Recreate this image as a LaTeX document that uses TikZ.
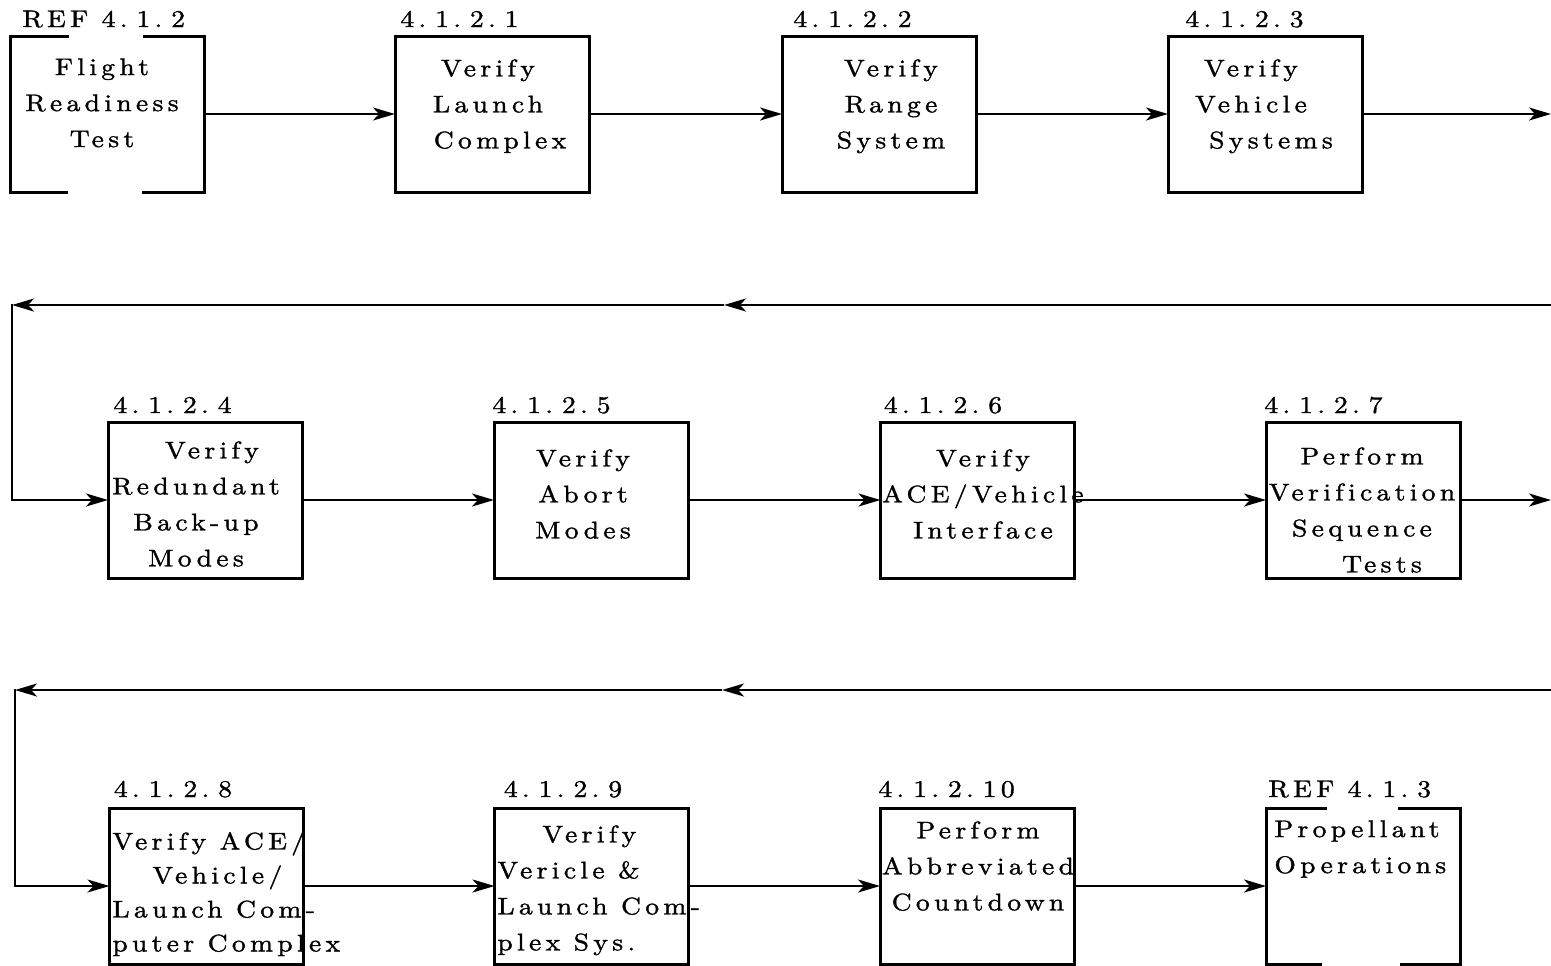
\documentclass[tikz,border=0pt]{standalone}
\usepackage{fontspec}
\setmainfont{lmroman10-regular.otf}[LetterSpace=18, FakeStretch=1.15, FakeBold=1.3, Ligatures=NoCommon]
\usetikzlibrary{arrows.meta,calc}
% space after each dot of a block number
\newcommand\numgap{\hspace{4.5pt}}

\begin{document}
\begin{tikzpicture}[x=0.5pt,y=-0.5pt,
  font=\fontsize{12pt}{18pt}\selectfont,
  box/.style={draw, line width=1.5pt, minimum width=97pt, minimum height=78pt,
              inner sep=0pt, outer sep=0pt},
  refbox/.style={box, draw=none},
  tag/.style={anchor=base west, inner sep=0pt},
  body/.style={anchor=north, inner sep=0pt, align=center},
  lbody/.style={anchor=north west, inner sep=0pt, align=left},
  flow/.style={line width=1.3pt, -{Stealth[length=11pt,width=6.5pt,inset=3pt]}},
  edge/.style={line width=1.5pt}
]
\useasboundingbox (0,0) rectangle (1551,965);
\fill[white] (0,0) rectangle (1551,965);

% ---- first row ----
\node[refbox] (b0) at (107,114) {};
\node[box]    (b1) at (492,114) {};
\node[box]    (b2) at (879,114) {};
\node[box]    (b3) at (1265,114) {};

% ---- second row ----
\node[box] (b4) at (205,500) {};
\node[box] (b5) at (591,500) {};
\node[box] (b6) at (977.5,500) {};
\node[box] (b7) at (1363,500) {};

% ---- third row ----
\node[box]    (b8)  at (206.5,886) {};
\node[box]    (b9)  at (591.5,886) {};
\node[box]    (b10) at (977,886) {};
\node[refbox] (b11) at (1363,886) {};

% open-sided reference blocks
\draw[edge] ($(b0.north west)+(59,0)$) -- (b0.north west) -- (b0.south west) -- ++(58,0);
\draw[edge] ($(b0.north east)+(-61,0)$) -- (b0.north east) -- (b0.south east) -- ++(-62,0);
\draw[edge] ($(b11.north west)+(61,0)$) -- (b11.north west) -- (b11.south west) -- ++(56,0);
\draw[edge] ($(b11.north east)+(-62,0)$) -- (b11.north east) -- (b11.south east) -- ++(-60,0);

% block numbers
\node[tag] (l0)  at ($(b0.north west)+(12,-9)$)  {REF 4.\numgap 1.\numgap 2};
\node[tag] (l1)  at ($(b1.north west)+(5,-9)$)   {4.\numgap 1.\numgap 2.\numgap 1};
\node[tag] (l2)  at ($(b2.north west)+(11,-9)$)  {4.\numgap 1.\numgap 2.\numgap 2};
\node[tag] (l3)  at ($(b3.north west)+(17,-9)$)  {4.\numgap 1.\numgap 2.\numgap 3};
\node[tag] (l4)  at ($(b4.north west)+(5,-9)$)   {4.\numgap 1.\numgap 2.\numgap 4};
\node[tag] (l5)  at ($(b5.north west)+(-2,-9)$)  {4.\numgap 1.\numgap 2.\numgap 5};
\node[tag] (l6)  at ($(b6.north west)+(3,-9)$)   {4.\numgap 1.\numgap 2.\numgap 6};
\node[tag] (l7)  at ($(b7.north west)+(-2,-9)$)  {4.\numgap 1.\numgap 2.\numgap 7};
\node[tag] (l8)  at ($(b8.north west)+(4,-11)$)  {4.\numgap 1.\numgap 2.\numgap 8};
\node[tag] (l9)  at ($(b9.north west)+(9,-11)$)  {4.\numgap 1.\numgap 2.\numgap 9};
\node[tag] (l10) at ($(b10.north west)+(-2,-11)$) {4.\numgap 1.\numgap 2.\numgap 10};
\node[tag] (l11) at ($(b11.north west)+(2,-11)$) {REF 4.\numgap 1.\numgap 3};

% block texts
\node[body] (t0) at (102,58)   {Flight\\Readiness\\Test};
\node[body] (t1) at (488,59)   {Verify\\Launch\\\hspace*{12pt}Complex};
\node[body] (t2) at (891,59)   {Verify\\Range\\System};
\node[body] (t3) at (1251,59)  {Verify\\Vehicle\\\hspace*{20pt}Systems};
\node[body] (t4) at (196,441)  {\hspace*{16pt}Verify\\Redundant\\Back-up\\Modes};
\node[body] (t5) at (583,449)  {Verify\\Abort\\Modes};
\node[body] (t6) at (983,449)  {Verify\\ACE/Vehicle\\Interface};
\node[body] (t7) at (1362,447) {Perform\\Verification\\Sequence\\\hspace*{20pt}Tests};
\node[lbody, font=\fontsize{12pt}{17pt}\selectfont] (t8) at (112,831)
  {Verify ACE/\\\hspace*{20pt}Vehicle/\\Launch Com-\\puter Complex};
\node[lbody] (t9) at (497,825)
  {\hspace*{22.5pt}Verify\\Vericle \&\\Launch Com-\\plex Sys.};
\node[body] (t10) at (978,821) {Perform\\Abbreviated\\Countdown};
\node[lbody] (t11) at (1274,820) {Propellant\\Operations};

% row connectors
\coordinate (e1) at (1551,114);
\coordinate (e2) at (1551,500);
\draw[flow] (b0) -- (b1);
\draw[flow] (b1) -- (b2);
\draw[flow] (b2) -- (b3);
\draw[flow] (b3) -- (e1);
\draw[flow] (b4) -- (b5);
\draw[flow] (b5) -- (b6);
\draw[flow] (b6) -- (b7);
\draw[flow] (b7) -- (e2);
\draw[flow] (b8) -- (b9);
\draw[flow] (b9) -- (b10);
\draw[flow] (b10) -- (b11);

% return lines between rows
\coordinate (r1) at (1551,305);
\coordinate (m1) at (724,305);
\coordinate (c1) at (12,305);
\coordinate (r2) at (1551,690);
\coordinate (m2) at (722,690);
\coordinate (c2) at (15,690);
\draw[flow] (r1) -- (m1);
\draw[flow] (m1) -- (c1);
\draw[flow, line cap=rect] (c1) |- (b4);
\draw[flow] (r2) -- (m2);
\draw[flow] (m2) -- (c2);
\draw[flow, line cap=rect] (c2) |- (b8);
\end{tikzpicture}
\end{document}
